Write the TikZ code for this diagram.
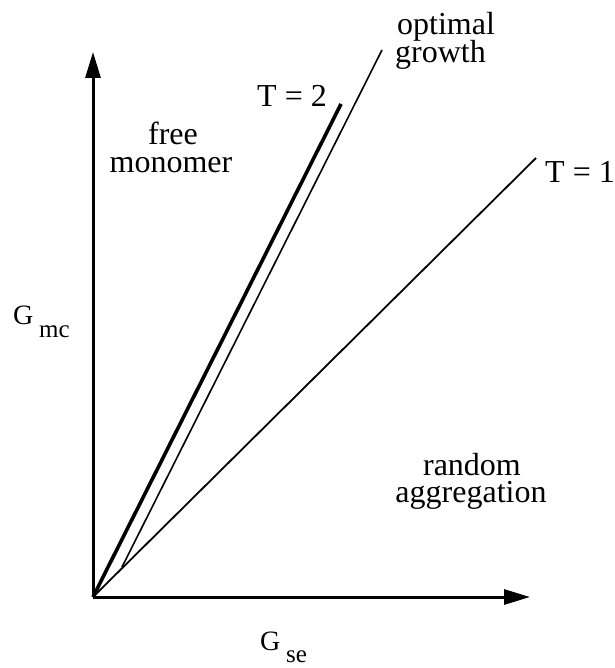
\documentclass[tikz,border=0pt]{standalone}
\usepackage{fontspec}
\setmainfont{Liberation Serif}
\usetikzlibrary{arrows.meta}
\begin{document}
\begin{tikzpicture}[x=1pt,y=-1pt,
  lab/.style={inner sep=0pt,font=\fontsize{32}{34}\selectfont},
  glab/.style={inner sep=0pt,font=\fontsize{28}{30}\selectfont},
  sublab/.style={inner sep=0pt,font=\fontsize{25}{27}\selectfont},
  axis/.style={line width=3pt,-{Triangle[length=26pt,width=15pt]}},
  thickline/.style={line width=3.6pt},
  thinline/.style={line width=1.8pt},
  optline/.style={line width=1.6pt}]
\useasboundingbox (0,0) rectangle (614,668);
\fill[white] (0,0) rectangle (614,668);
\coordinate (O) at (93,597);
\coordinate (Ytip) at (93,52);
\coordinate (Xtip) at (530,597);
\coordinate (T2end) at (341,104);
\coordinate (T1end) at (536,158);
\coordinate (OGstart) at (122,567);
\coordinate (OGend) at (382,50);
% lines
\draw[thickline] (O) -- (T2end);
\draw[thinline] (O) -- (T1end);
\draw[optline] (OGstart) -- (OGend);
% axes
\draw[axis] (O) -- (Ytip);
\draw[axis] (O) -- (Xtip);
% labels
\node[lab,anchor=base west] (opt) at (397,35) {optimal};
\node[lab,anchor=base west] (grow) at (395,63) {growth};
\node[lab,anchor=base west] (t2) at (257,107) {T = 2};
\node[lab,anchor=base west] (t1) at (545,183) {T = 1};
\node[lab,anchor=base] (free) at (173,145) {free};
\node[lab,anchor=base] (mono) at (171,173) {monomer};
\node[lab,anchor=base] (rand) at (472,475) {random};
\node[lab,anchor=base] (aggr) at (471,502) {aggregation};
\node[glab,anchor=base west] (gmc) at (13,324) {G};
\node[sublab,anchor=base west] (mc) at (39,337) {mc};
\node[glab,anchor=base west] (gse) at (260,650) {G};
\node[sublab,anchor=base west] (se) at (286,662) {se};
\end{tikzpicture}
\end{document}
